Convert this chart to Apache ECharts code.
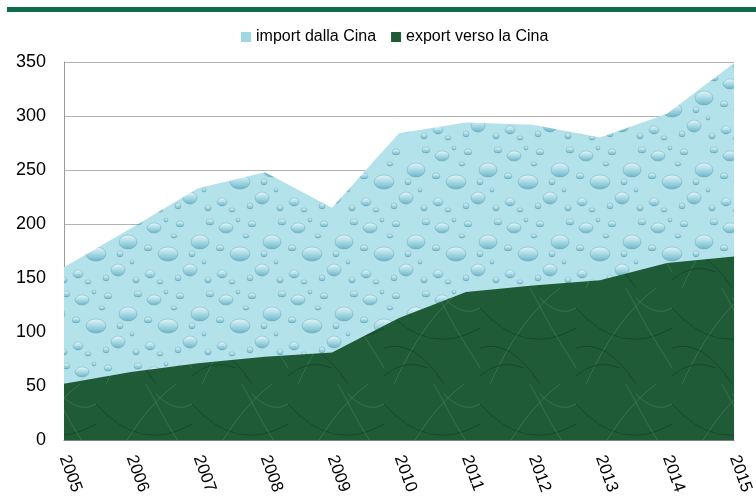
<!DOCTYPE html>
<html>
<head>
<meta charset="utf-8">
<script src="https://cdn.jsdelivr.net/npm/echarts@6/dist/echarts.min.js"></script>
<style>
  html, body { margin: 0; padding: 0; background: #fff; }
  #chart { width: 756px; height: 501px; }
</style>
</head>
<body>
<div id="chart"></div>
<script>
// dati
const years = ["2005", "2006", "2007", "2008", "2009", "2010", "2011", "2012", "2013", "2014", "2015"];
const importCina = [160, 196, 233, 248, 215, 284, 294, 292, 280, 302, 349];
const exportCina = [52, 63, 71, 77, 81, 113, 137, 143, 148, 164, 170];
const yTicks = [0, 50, 100, 150, 200, 250, 300, 350];

const FONT = '"Liberation Sans Narrow", "Liberation Sans", Arial, sans-serif';

// texture "gocce d'acqua"
function dropsPattern() {
  const c = document.createElement("canvas");
  c.width = 72; c.height = 72;
  const g = c.getContext("2d");
  g.fillStyle = "#b4e2eb";
  g.fillRect(0, 0, 72, 72);
  const drops = [[10, 12, 7, 5], [36, 8, 4, 3], [56, 26, 9, 7], [24, 38, 10, 7], [6, 58, 5, 4],
    [46, 54, 7, 6], [30, 20, 3, 2], [64, 64, 3, 3], [16, 66, 3, 2], [48, 38, 3, 3],
    [66, 6, 4, 3], [4, 32, 4, 3], [34, 62, 3, 3], [60, 46, 2, 2], [22, 4, 2, 2]];
  drops.forEach(d => {
    const gr = g.createLinearGradient(d[0], d[1] - d[3], d[0], d[1] + d[3]);
    gr.addColorStop(0, "#e4f6f9");
    gr.addColorStop(0.5, "#a6d9e4");
    gr.addColorStop(1, "#6fb4c6");
    g.fillStyle = gr;
    g.beginPath();
    g.ellipse(d[0], d[1], d[2], d[3], 0, 0, Math.PI * 2);
    g.fill();
    g.strokeStyle = "rgba(80,150,170,0.5)";
    g.lineWidth = 0.7;
    g.stroke();
  });
  return c;
}

// texture "marmo verde"
function marblePattern() {
  const c = document.createElement("canvas");
  c.width = 96; c.height = 96;
  const g = c.getContext("2d");
  g.fillStyle = "#1f5b37";
  g.fillRect(0, 0, 96, 96);
  g.lineWidth = 1;
  const veins = [[0, 20, 45, 70, 96, 40], [10, 96, 40, 30, 80, 0], [0, 60, 30, 50, 60, 96],
    [50, 0, 70, 40, 96, 80], [0, 88, 20, 70, 44, 80], [60, 10, 80, 30, 96, 20]];
  veins.forEach((v, i) => {
    g.strokeStyle = i % 2 ? "rgba(95,160,115,0.35)" : "rgba(20,60,35,0.6)";
    g.beginPath();
    g.moveTo(v[0], v[1]);
    g.quadraticCurveTo(v[2], v[3], v[4], v[5]);
    g.stroke();
  });
  return c;
}

const chart = echarts.init(document.getElementById("chart"));
const dropFill = { image: dropsPattern(), repeat: "repeat" };
const marbleFill = { image: marblePattern(), repeat: "repeat" };

chart.setOption({
  animation: false,
  graphic: [{
    type: "rect",
    shape: { x: 7, y: 7, width: 749, height: 5 },
    style: { fill: "#0f6b4a" }
  }],
  legend: {
    top: 24,
    left: 236,
    itemWidth: 10,
    itemHeight: 10,
    itemGap: 15,
    textStyle: { fontFamily: FONT, fontSize: 16, color: "#000" },
    data: [
      { name: "import dalla Cina", icon: "rect", itemStyle: { color: "#9fd8e4" } },
      { name: "export verso la Cina", icon: "rect", itemStyle: { color: "#1e5a36" } }
    ]
  },
  grid: { left: 64, right: 11, top: 62, bottom: 61 },
  xAxis: {
    type: "category",
    data: years,
    boundaryGap: false,
    axisLine: { lineStyle: { color: "#808080" } },
    axisTick: { show: false },
    axisLabel: {
      rotate: -70,
      fontFamily: FONT,
      fontSize: 17,
      color: "#000",
      margin: 16,
      interval: 0
    }
  },
  yAxis: {
    type: "value",
    min: 0,
    max: yTicks[yTicks.length - 1],
    interval: 50,
    axisLine: { show: true, lineStyle: { color: "#999" } },
    axisTick: { show: false },
    splitLine: { lineStyle: { color: "#b3b3b3" } },
    axisLabel: { fontFamily: FONT, fontSize: 18, color: "#000", margin: 18 }
  },
  series: [
    {
      name: "import dalla Cina",
      type: "line",
      data: importCina,
      symbol: "none",
      lineStyle: { width: 0 },
      areaStyle: { color: dropFill, opacity: 1 },
      itemStyle: { color: "#9fd8e4" }
    },
    {
      name: "export verso la Cina",
      type: "line",
      data: exportCina,
      symbol: "none",
      lineStyle: { width: 0 },
      areaStyle: { color: marbleFill, opacity: 1 },
      itemStyle: { color: "#1e5a36" }
    }
  ]
});
</script>
</body>
</html>
